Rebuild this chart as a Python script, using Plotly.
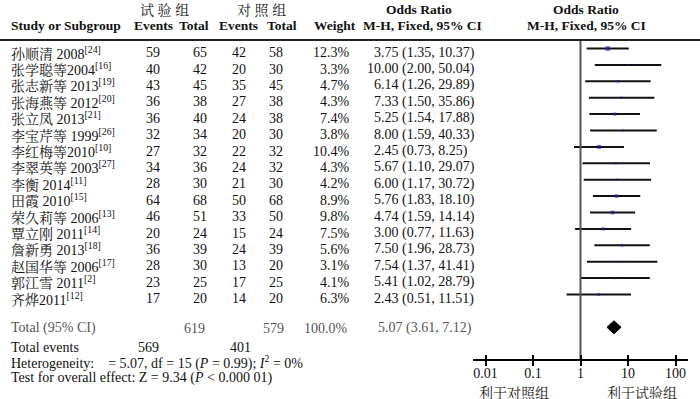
import plotly.graph_objects as go

# ---------------- data ----------------
studies = ["孙顺清 2008", "张学聪等2004", "张志新等 2013", "张海燕等 2012", "张立凤 2013",
           "李宝芹等 1999", "李红梅等2010", "李翠英等 2003", "李衡 2014", "田霞 2010",
           "荣久莉等 2006", "覃立刚 2011", "詹新勇 2013", "赵国华等 2006", "郭江雪 2011", "齐烨2011"]
refs = ["24", "16", "19", "20", "21", "26", "10", "27", "11", "15", "13", "14", "18", "17", "2", "12"]
events_trial = [59, 40, 43, 36, 36, 32, 27, 34, 28, 64, 46, 20, 36, 28, 23, 17]
total_trial = [65, 42, 45, 38, 40, 34, 32, 36, 30, 68, 51, 24, 39, 30, 25, 20]
events_ctrl = [42, 20, 35, 27, 24, 20, 22, 24, 21, 50, 33, 15, 24, 13, 17, 14]
total_ctrl = [58, 30, 45, 38, 38, 30, 32, 32, 30, 68, 50, 24, 39, 20, 25, 20]
weights = [12.3, 3.3, 4.7, 4.3, 7.4, 3.8, 10.4, 4.3, 4.2, 8.9, 9.8, 7.5, 5.6, 3.1, 4.1, 6.3]
odds = [3.75, 10.00, 6.14, 7.33, 5.25, 8.00, 2.45, 5.67, 6.00, 5.76, 4.74, 3.00, 7.50, 7.54, 5.41, 2.43]
ci_low = [1.35, 2.00, 1.26, 1.50, 1.54, 1.59, 0.73, 1.10, 1.17, 1.83, 1.59, 0.77, 1.96, 1.37, 1.02, 0.51]
ci_high = [10.37, 50.04, 29.89, 35.86, 17.88, 40.33, 8.25, 29.07, 30.72, 18.10, 14.14, 11.63, 28.73, 41.41, 28.79, 11.51]

pooled_or, pooled_lo, pooled_hi = 5.07, 3.61, 7.12
sum_total_trial, sum_total_ctrl = 619, 579
sum_events_trial, sum_events_ctrl = 569, 401
total_weight = "100.0%"
tick_vals = [0.01, 0.1, 1, 10, 100]
tick_text = ["0.01", "0.1", "1", "10", "100"]

# ---------------- layout helpers ----------------
W, H = 700, 399
ROW0, ROWH = 48.5, 16.4          # pixel centre of first row & row pitch
def idx(px):                      # pixel row -> y index coordinate
    return (px - ROW0) / ROWH

FONT = "Liberation Serif, 'Noto Serif CJK SC', 'Noto Sans CJK SC', serif"
CJK = "'Noto Serif CJK SC', 'Noto Sans CJK SC', serif"
n = len(studies)
rows = list(range(n))
TOTAL_ROW = 17
FS = 14      # body text size
HS = 13.5    # bold header size

fig = go.Figure()

# study CIs + squares
fig.add_trace(go.Scatter(
    x=odds, y=rows, mode="markers",
    marker=dict(symbol="square", color="#1c1ca0", size=[1 + 0.28 * w for w in weights],
                line=dict(width=0)),
    error_x=dict(type="data", symmetric=False,
                 array=[h - o for h, o in zip(ci_high, odds)],
                 arrayminus=[o - l for o, l in zip(odds, ci_low)],
                 color="#111111", thickness=2, width=0),
    hoverinfo="skip", showlegend=False))

# pooled diamond
dh = 0.4
fig.add_trace(go.Scatter(
    x=[pooled_lo, pooled_or, pooled_hi, pooled_or, pooled_lo],
    y=[TOTAL_ROW, TOTAL_ROW - dh, TOTAL_ROW, TOTAL_ROW + dh, TOTAL_ROW],
    mode="lines", fill="toself", fillcolor="black", line=dict(color="black", width=1),
    hoverinfo="skip", showlegend=False))

# line of no effect
fig.add_trace(go.Scatter(x=[1, 1], y=[idx(40), idx(360)], mode="lines",
                         line=dict(color="#555555", width=2), hoverinfo="skip", showlegend=False))

ann = []
def T(text, xpx, ypx=None, row=None, anchor="left", size=FS, color="#111111", bold=False, family=FONT):
    if bold:
        text = "<b>" + text + "</b>"
    y = row if row is not None else idx(ypx)
    ann.append(dict(text=text, x=xpx / W, xref="paper", y=y, yref="y", xanchor=anchor,
                    yanchor="middle", showarrow=False, borderpad=0,
                    font=dict(family=family, size=size, color=color)))

# headers
T("试 验 组", 164, 9, anchor="center", size=14, family=CJK, color="#222")
T("对 照 组", 261, 9, anchor="center", size=14, family=CJK, color="#222")
T("Odds Ratio", 419, 9, anchor="center", size=HS, bold=True)
T("Odds Ratio", 586, 9, anchor="center", size=HS, bold=True)
T("Study or Subgroup", 10, 25, size=HS, bold=True)
T("Events", 174, 25, anchor="right", size=HS, bold=True)
T("Total", 210, 25, anchor="right", size=HS, bold=True)
T("Events", 259, 25, anchor="right", size=HS, bold=True)
T("Total", 298, 25, anchor="right", size=HS, bold=True)
T("Weight", 357, 25, anchor="right", size=HS, bold=True)
T("M-H, Fixed, 95% CI", 422, 25, anchor="center", size=HS, bold=True)
T("M-H, Fixed, 95% CI", 586, 25, anchor="center", size=HS, bold=True)

# study rows
for i in rows:
    r = i + 0.25
    T(f"{studies[i]}<sup>[{refs[i]}]</sup>", 10, row=r)
    T(str(events_trial[i]), 161, row=r, anchor="right")
    T(str(total_trial[i]), 208, row=r, anchor="right")
    T(str(events_ctrl[i]), 247, row=r, anchor="right")
    T(str(total_ctrl[i]), 284, row=r, anchor="right")
    T(f"{weights[i]:.1f}%", 351, row=r, anchor="right")
    shift = 7 if odds[i] >= 10 else 0
    T(f"{odds[i]:.2f} ({ci_low[i]:.2f}, {ci_high[i]:.2f})", 373 - shift, row=r)

# totals
G = "#555555"
T("Total (95% CI)", 10, 328, color=G)
T(str(sum_total_trial), 206, 328, anchor="right", color=G)
T(str(sum_total_ctrl), 285, 328, anchor="right", color=G)
T(total_weight, 349, 328, anchor="right", color=G)
T(f"{pooled_or:.2f} ({pooled_lo:.2f}, {pooled_hi:.2f})", 377, 328, color=G)
T("Total events", 10, 347)
T(str(sum_events_trial), 160, 347, anchor="right")
T(str(sum_events_ctrl), 252, 347, anchor="right")
T("Heterogeneity:    = 5.07, df = 15 (<i>P</i> = 0.99); <i>I</i><sup>2</sup> = 0%", 10, 362.5)
T("Test for overall effect: Z = 9.34 (<i>P</i> &lt; 0.000 01)", 10, 378)

# favour labels
T("利于对照组", 514, 391.5, anchor="center", size=14, family=CJK, color="#222")
T("利于试验组", 642, 391.5, anchor="center", size=14, family=CJK, color="#222")

half = (688 - 473) / 2 / 47.5
axis_pos = (H - 360) / H
fig.update_layout(
    width=W, height=H, margin=dict(l=0, r=0, t=0, b=0),
    paper_bgcolor="white", plot_bgcolor="rgba(0,0,0,0)",
    annotations=ann,
    shapes=[dict(type="line", xref="paper", yref="paper", x0=0, x1=1,
                 y0=1 - 40 / H, y1=1 - 40 / H, line=dict(color="#222222", width=2))],
    xaxis=dict(type="log", domain=[473 / W, 688 / W], range=[-half, half],
               anchor="free", position=axis_pos, showline=True, linecolor="black", linewidth=2,
               ticks="outside", ticklen=5, tickwidth=2, tickcolor="black",
               ticklabelstandoff=-5,
               tickvals=tick_vals, ticktext=tick_text, showgrid=False, zeroline=False,
               tickfont=dict(family=FONT, size=14, color="#111")),
    xaxis2=dict(type="log", domain=[473 / W, 688 / W], range=[-half, half], overlaying="x",
                anchor="free", position=axis_pos, showline=False,
                ticks="inside", ticklen=5, tickwidth=2, tickcolor="black",
                tickvals=tick_vals, showticklabels=False, showgrid=False, zeroline=False),
    yaxis=dict(range=[idx(H), idx(0)], domain=[0, 1], visible=False, showgrid=False, zeroline=False),
)
# invisible trace so xaxis2 is drawn
fig.add_trace(go.Scatter(x=[1], y=[idx(360)], xaxis="x2", mode="markers",
                         marker=dict(opacity=0), hoverinfo="skip", showlegend=False))

fig.write_html("out.html", config={"displayModeBar": False},
               post_script="document.body.style.margin='0px';")
